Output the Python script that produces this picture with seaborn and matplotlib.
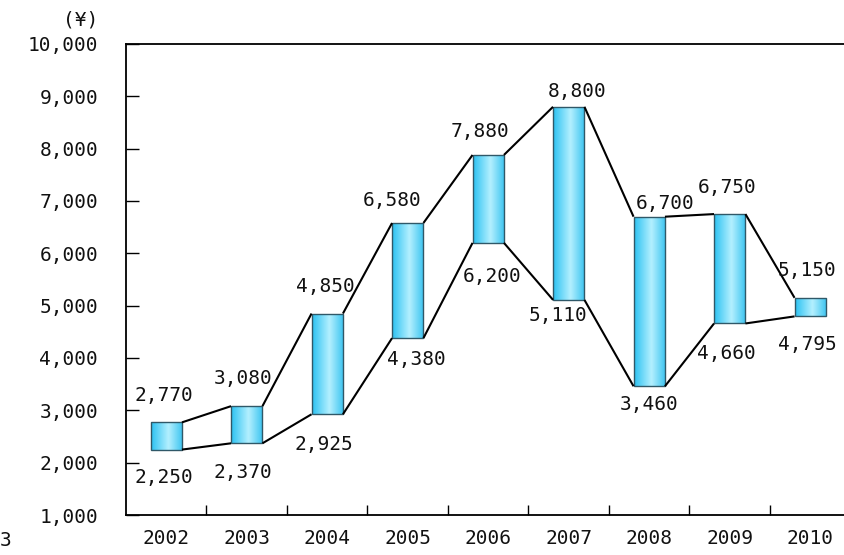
import numpy as np
import pandas as pd
import matplotlib
matplotlib.use("Agg")
import matplotlib.pyplot as plt
import seaborn as sns
from matplotlib.colors import LinearSegmentedColormap
from matplotlib.ticker import FixedLocator

years = ["2002", "2003", "2004", "2005", "2006", "2007", "2008", "2009", "2010"]
low = [2250, 2370, 2925, 4380, 6200, 5110, 3460, 4660, 4795]
high = [2770, 3080, 4850, 6580, 7880, 8800, 6700, 6750, 5150]
y_ticks = [1000, 2000, 3000, 4000, 5000, 6000, 7000, 8000, 9000, 10000]

# label offsets in pixels (dx, dy) from the bar top / bottom centre
high_offsets = [(-2, 27), (-4, 28), (-2, 27), (-16, 22), (-8, 23), (8, 15), (16, 13), (-3, 27), (-3, 27)]
low_offsets = [(-2, -28), (-4, -29), (-3, -30), (9, -21), (4, -34), (-11, -16), (0, -18), (-3, -30), (-3, -28)]

df = pd.DataFrame({"year": years, "low": low, "high": high})
df["span"] = df["high"] - df["low"]

sns.set_theme(style="white")
plt.rcParams["font.family"] = ["DejaVu Sans Mono", "DejaVu Sans"]
FS = 14

fig = plt.figure(figsize=(8.45, 5.55), dpi=100)
ax = fig.add_axes([126 / 845, 1 - 515 / 555, 9 * 80.5 / 845, 471 / 555])

bar_w = 0.39
sns.barplot(data=df, x="year", y="span", bottom=df["low"].to_numpy(), width=bar_w,
            color="#5fd3f5", edgecolor="#2f5868", linewidth=1.0, ax=ax, zorder=3)

cmap = LinearSegmentedColormap.from_list(
    "bar", [(0, "#2cc2f2"), (0.55, "#b4f0ff"), (1, "#3cc4f0")])
grad = np.linspace(0, 1, 64).reshape(1, -1)
for p in ax.patches:
    x0, y0 = p.get_x(), p.get_y()
    w, h = p.get_width(), p.get_height()
    p.set_facecolor("none")
    im = ax.imshow(grad, cmap=cmap, aspect="auto", extent=[x0, x0 + w, y0, y0 + h],
                   zorder=2.5, interpolation="bicubic")
    im.set_clip_path(p)

# connecting lines between bar corners
xs = np.arange(len(years))
for series in (high, low):
    for i in range(len(years) - 1):
        ax.plot([xs[i] + bar_w / 2, xs[i + 1] - bar_w / 2], [series[i], series[i + 1]],
                color="black", lw=1.5, zorder=4, solid_capstyle="butt")

for i in range(len(years)):
    ax.annotate(f"{high[i]:,}", (xs[i], high[i]), xytext=high_offsets[i],
                textcoords="offset pixels", ha="center", va="center", fontsize=FS,
                color="#111111", zorder=5)
    ax.annotate(f"{low[i]:,}", (xs[i], low[i]), xytext=low_offsets[i],
                textcoords="offset pixels", ha="center", va="center", fontsize=FS,
                color="#111111", zorder=5)

ax.set_xlim(-0.5, len(years) - 0.5)
ax.set_ylim(1000, 10000)
ax.set_yticks(y_ticks)
ax.set_yticklabels([f"{v:,}" for v in y_ticks], fontsize=FS, color="#111111")
ax.set_xticks(xs)
ax.set_xticklabels(years, fontsize=FS, color="#111111")
ax.xaxis.set_minor_locator(FixedLocator(xs[:-1] + 0.5))
ax.tick_params(axis="x", which="major", length=0, pad=10)
ax.tick_params(axis="x", which="minor", direction="in", length=7, width=1, color="black", bottom=True)
ax.tick_params(axis="y", which="major", direction="in", length=9, width=1, color="black", left=True, pad=20)
ax.set_xlabel("")
ax.set_ylabel("")
for side in ("left", "bottom", "top"):
    ax.spines[side].set_visible(True)
    ax.spines[side].set_color("black")
    ax.spines[side].set_linewidth(1.3)
ax.spines["right"].set_visible(False)
ax.grid(False)

fig.text(81 / 845, 1 - 20 / 555, "(¥)", ha="center", va="center", fontsize=FS, color="#111111")
fig.text(0 / 845, 1 - 541 / 555, "3", ha="left", va="center", fontsize=FS, color="#111111")

fig.savefig("out.png", dpi=100)
